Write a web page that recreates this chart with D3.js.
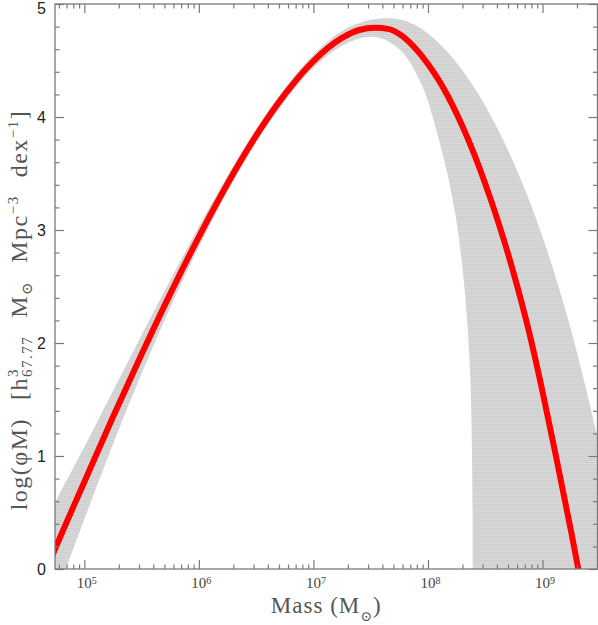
<!DOCTYPE html>
<html lang="en">
<head>
<meta charset="UTF-8">
<title>Mass function</title>
<style>
  html, body { margin: 0; padding: 0; background: #fff; }
  svg { display: block; }
  .frame { fill: none; stroke: #7a7a7a; stroke-width: 1.3px; }
  .tick line { stroke: #7a7a7a; stroke-width: 1.2px; }
  .domain { display: none; }
  .ylab text { font-family: "Liberation Sans", Arial, sans-serif; font-size: 16px; fill: #222; }
  .xlab text { font-family: "Liberation Serif", "DejaVu Serif", serif; font-size: 15px; fill: #444; }
  .title { font-family: "Liberation Serif", "DejaVu Serif", serif; fill: #555; letter-spacing: 1.5px; }
</style>
</head>
<body>
<svg id="chart" width="598" height="625" viewBox="0 0 598 625"></svg>
<script src="https://d3js.org/d3.v7.min.js"></script>
<script>

// red curve: log10(M), log(phi M)
const fitLogM = [4.70, 4.75, 5.00, 5.25, 5.50, 5.75, 6.00, 6.25, 6.50, 6.75, 7.00, 7.25, 7.40, 7.54, 7.65, 7.75, 7.87, 8.00, 8.11, 8.25, 8.30, 8.40, 8.50, 8.625, 8.75, 8.875, 9.00, 9.125, 9.25, 9.35];
const fitVals  = [0.07, 0.19, 0.77, 1.345, 1.90, 2.435, 2.94, 3.41, 3.835, 4.20, 4.495, 4.70, 4.77, 4.79, 4.78, 4.735, 4.63, 4.47, 4.30, 4.03, 3.92, 3.68, 3.41, 3.035, 2.61, 2.13, 1.57, 0.96, 0.33, -0.20];

// grey uncertainty band, upper and lower edges
const upLogM = [4.70, 4.75, 5.00, 5.25, 5.50, 5.75, 6.00, 6.25, 6.50, 6.75, 7.00, 7.25, 7.50, 7.65, 7.75, 8.00, 8.25, 8.50, 8.75, 9.00, 9.25, 9.50, 9.60];
const upVals = [0.50, 0.60, 1.08, 1.575, 2.07, 2.555, 3.03, 3.48, 3.895, 4.255, 4.55, 4.76, 4.86, 4.875, 4.865, 4.74, 4.48, 4.10, 3.59, 2.94, 2.11, 1.07, 0.60];
const lowLogM = [4.70, 4.75, 5.00, 5.25, 5.50, 5.75, 6.00, 6.25, 6.50, 6.75, 7.00, 7.25, 7.50, 7.75, 7.90, 8.00, 8.05, 8.10, 8.20, 8.28, 8.33, 8.36, 8.38, 8.39, 8.392, 9.60];
const lowVals = [-0.42, -0.26, 0.44, 1.105, 1.73, 2.315, 2.85, 3.34, 3.775, 4.14, 4.435, 4.63, 4.71, 4.60, 4.38, 4.14, 3.97, 3.78, 3.35, 2.85, 2.35, 1.90, 1.30, 0.50, -1.0, -1.0];

const xMajor = [1e5, 1e6, 1e7, 1e8, 1e9];
const xMajorExp = ["5", "6", "7", "8", "9"];
const yMajor = [0, 1, 2, 3, 4, 5];

const svg = d3.select("#chart");
const pLeft = 55, pRight = 597.5, pTop = 4, pBottom = 569;

const x = d3.scaleLog().domain([Math.pow(10, 4.744), Math.pow(10, 9.48)]).range([pLeft, pRight]);
const y = d3.scaleLinear().domain([0, 5]).range([pBottom, pTop]);

// minor x ticks 2..9 x 10^k
const xMinor = [];
for (let k = 4; k <= 9; k++) {
  for (let m = 2; m <= 9; m++) {
    const v = m * Math.pow(10, k);
    if (v > x.domain()[0] && v < x.domain()[1]) xMinor.push(v);
  }
}
const yMinor = d3.range(0, 5.001, 0.2).filter(v => Math.abs(v - Math.round(v)) > 1e-6);

const defs = svg.append("defs");
defs.append("clipPath").attr("id", "clip")
  .append("rect").attr("x", pLeft).attr("y", pTop).attr("width", pRight - pLeft).attr("height", pBottom - pTop);

const pat = defs.append("pattern").attr("id", "hatch")
  .attr("patternUnits", "userSpaceOnUse").attr("width", 8).attr("height", 2);
pat.append("rect").attr("width", 8).attr("height", 2).attr("fill", "#d9d9d9");
pat.append("rect").attr("width", 8).attr("height", 1).attr("fill", "#cecece");

const px = d => x(Math.pow(10, d[0]));

// band = area under upper edge, masked by area under lower edge
const under = d3.area()
  .x(px)
  .y0(y(-2))
  .y1(d => y(d[1]))
  .curve(d3.curveMonotoneX);

const mask = defs.append("mask").attr("id", "bandMask").attr("maskUnits", "userSpaceOnUse")
  .attr("x", 0).attr("y", 0).attr("width", 598).attr("height", 625);
mask.append("rect").attr("width", 598).attr("height", 625).attr("fill", "white");
mask.append("path")
  .datum(lowLogM.map((m, i) => [m, lowVals[i]]))
  .attr("d", under)
  .attr("fill", "black");

const plot = svg.append("g").attr("clip-path", "url(#clip)");

plot.append("path")
  .datum(upLogM.map((m, i) => [m, upVals[i]]))
  .attr("d", under)
  .attr("fill", "url(#hatch)")
  .attr("mask", "url(#bandMask)");

const line = d3.line()
  .x(px)
  .y(d => y(d[1]))
  .curve(d3.curveMonotoneX);

plot.append("path")
  .datum(fitLogM.map((m, i) => [m, fitVals[i]]))
  .attr("d", line)
  .attr("fill", "none")
  .attr("stroke", "#ff0000")
  .attr("stroke-width", 6)
  .attr("stroke-linejoin", "round");

// ticks, all pointing inward
function ticks(axisFn, scale, vals, size, pos) {
  return svg.append("g")
    .attr("transform", pos)
    .call(axisFn(scale).tickValues(vals).tickSize(size).tickFormat(""));
}
ticks(d3.axisBottom, x, xMinor, -4.5, `translate(0,${pBottom})`);
ticks(d3.axisTop, x, xMinor, -4.5, `translate(0,${pTop})`);
ticks(d3.axisTop, x, xMajor, -9, `translate(0,${pTop})`);
ticks(d3.axisLeft, y, yMinor, -4.5, `translate(${pLeft},0)`);
ticks(d3.axisRight, y, yMinor, -4.5, `translate(${pRight},0)`);
ticks(d3.axisRight, y, yMajor, -9, `translate(${pRight},0)`);

// major ticks with labels
svg.append("g").attr("class", "xlab")
  .attr("transform", `translate(0,${pBottom})`)
  .call(d3.axisBottom(x).tickValues(xMajor).tickSize(-9).tickPadding(8).tickFormat(""))
  .selectAll(".tick text")
  .each(function (d, i) {
    const t = d3.select(this).attr("dx", "2px").attr("dy", "0.71em");
    t.append("tspan").text("10");
    t.append("tspan").attr("dy", "-0.4em").attr("font-size", "10px").text(xMajorExp[i]);
  });

svg.append("g").attr("class", "ylab")
  .attr("transform", `translate(${pLeft},0)`)
  .call(d3.axisLeft(y).tickValues(yMajor).tickSize(-9).tickPadding(9).tickFormat(d3.format("d")))
  .selectAll(".tick text").attr("dy", d => d === 5 ? "0.62em" : "0.36em");

svg.append("rect").attr("class", "frame")
  .attr("x", pLeft).attr("y", pTop).attr("width", pRight - pLeft).attr("height", pBottom - pTop);

// axis titles
const xt = svg.append("text").attr("class", "title")
  .attr("x", (pLeft + pRight) / 2).attr("y", 613)
  .attr("text-anchor", "middle").attr("font-size", "23px").style("letter-spacing", "1px");
xt.append("tspan").text("Mass (M");
xt.append("tspan").attr("font-size", "14px").attr("dy", "8px").text("\u2299");
xt.append("tspan").attr("dy", "-8px").text(")");

const yt = svg.append("text").attr("class", "title")
  .attr("transform", "translate(27,310) rotate(-90)")
  .attr("text-anchor", "middle").attr("font-size", "24px");
yt.append("tspan").text("log(\u03C6M)");
yt.append("tspan").attr("dx", "18px").text("[h");
yt.append("tspan").attr("font-size", "15px").attr("dy", "-9px").text("3");
yt.append("tspan").attr("font-size", "15px").attr("dx", "-9px").attr("dy", "14px").text("67.77");
yt.append("tspan").attr("dx", "18px").attr("dy", "-5px").text("M");
yt.append("tspan").attr("font-size", "15px").attr("dy", "5px").text("\u2299");
yt.append("tspan").attr("dx", "18px").attr("dy", "-5px").text("Mpc");
yt.append("tspan").attr("font-size", "15px").attr("dy", "-9px").text("\u22123");
yt.append("tspan").attr("dx", "18px").attr("dy", "9px").text("dex");
yt.append("tspan").attr("font-size", "15px").attr("dy", "-9px").text("\u22121");
yt.append("tspan").attr("dy", "9px").text("]");

</script>
</body>
</html>
